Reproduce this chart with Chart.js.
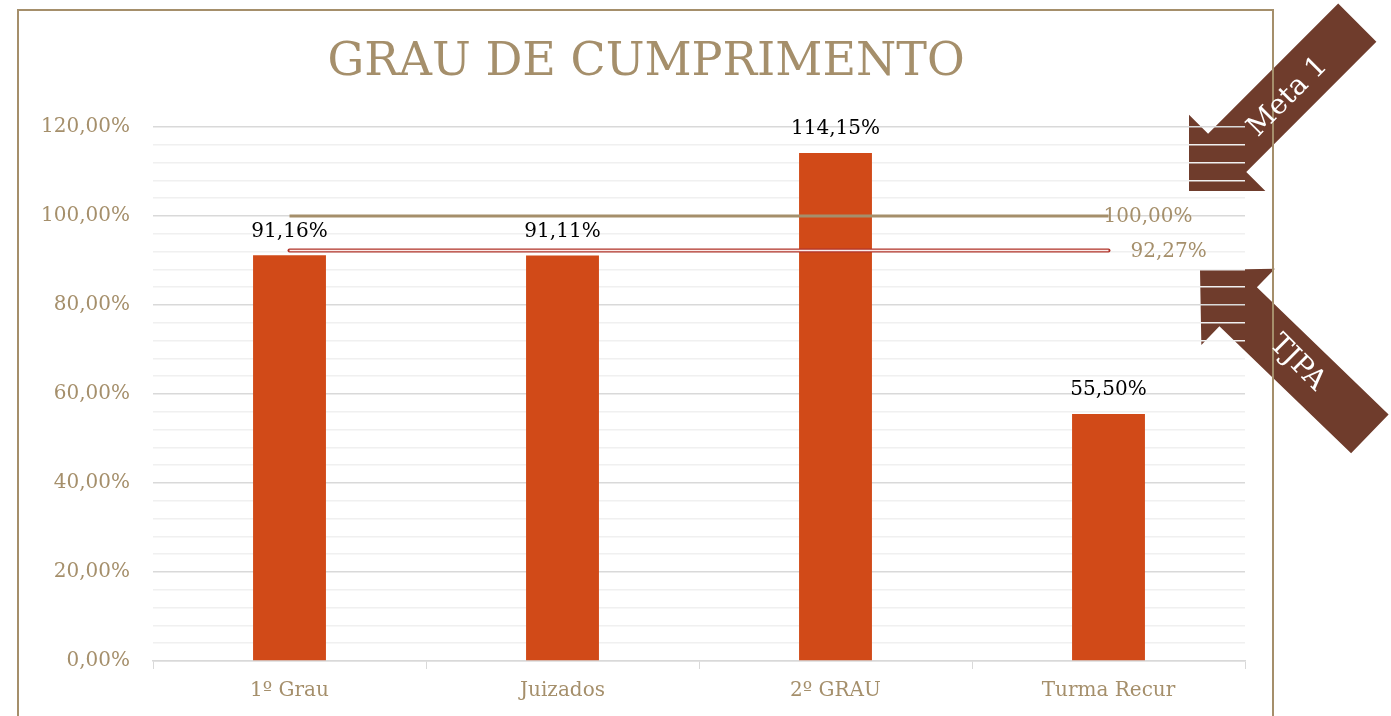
<!DOCTYPE html>
<html>
<head>
<meta charset="utf-8">
<script src="https://cdn.jsdelivr.net/npm/chart.js@4"></script>
<style>
  html, body { margin: 0; padding: 0; background: #fff; }
  #wrap { width: 1391px; height: 716px; position: relative; }
</style>
</head>
<body>
<div id="wrap"><canvas id="chart"></canvas></div>
<script>
// ── Data ──────────────────────────────────────────────────
const chartTitle  = 'GRAU DE CUMPRIMENTO';
const categories  = ['1º Grau', 'Juizados', '2º GRAU', 'Turma Recur'];
const cumprimento = [91.16, 91.11, 114.15, 55.50];
const metaValues  = [100, 100, 100, 100];
const tjpaValues  = [92.27, 92.27, 92.27, 92.27];
const yTicks      = [0, 20, 40, 60, 80, 100, 120];

const TAN   = '#A58F6B';
const BAR   = '#D14A18';
const BROWN = '#6F3C2C';
const SERIF = '"DejaVu Serif", serif';

const pct = v => v.toFixed(2).replace('.', ',') + '%';

// ── Decorations: arrows, frame, title ─────────────────────
function drawArrow(ctx, tipX, tipY, angle, len, headLen, headHalf, shaftHalf) {
  ctx.save();
  ctx.translate(tipX, tipY);
  ctx.rotate(angle);
  ctx.beginPath();
  ctx.moveTo(0, 0);
  ctx.lineTo(-headLen, -headHalf);
  ctx.lineTo(-headLen, -shaftHalf);
  ctx.lineTo(-len, -shaftHalf);
  ctx.lineTo(-len, shaftHalf);
  ctx.lineTo(-headLen, shaftHalf);
  ctx.lineTo(-headLen, headHalf);
  ctx.closePath();
  ctx.fillStyle = BROWN;
  ctx.fill();
  ctx.restore();
}

function arrowText(ctx, text, x, y, angle) {
  ctx.save();
  ctx.translate(x, y);
  ctx.rotate(angle);
  ctx.fillStyle = '#fff';
  ctx.font = '28px ' + SERIF;
  ctx.textAlign = 'center';
  ctx.textBaseline = 'middle';
  ctx.fillText(text, 0, 0);
  ctx.restore();
}

const decorPlugin = {
  id: 'decor',
  beforeDraw(chart) {
    const ctx = chart.ctx;
    ctx.save();
    ctx.fillStyle = '#fff';
    ctx.fillRect(0, 0, chart.width, chart.height);
    // Meta 1 arrow (points down-left), TJPA arrow (points up-left)
    drawArrow(ctx, 1189, 191, Math.atan2(1, -1), 238, 54, 54, 27);
    drawArrow(ctx, 1200, 270, Math.atan2(-164, -170), 236, 53, 53, 27);
    // frame
    ctx.strokeStyle = TAN;
    ctx.lineWidth = 2;
    ctx.strokeRect(18, 10, 1255, 720);
    // title, centred on the frame
    ctx.fillStyle = TAN;
    ctx.font = '46px ' + SERIF;
    ctx.textAlign = 'center';
    ctx.textBaseline = 'middle';
    ctx.fillText(chartTitle, 646, 63);
    ctx.restore();
  },
  afterDraw(chart) {
    const ctx = chart.ctx;
    arrowText(ctx, 'Meta 1', 1288, 97, -Math.PI / 4);
    arrowText(ctx, 'TJPA', 1297, 363, Math.PI / 4);
  }
};

// ── Value labels ──────────────────────────────────────────
const labelPlugin = {
  id: 'valueLabels',
  afterDatasetsDraw(chart) {
    const ctx = chart.ctx;
    ctx.save();
    ctx.font = '20px ' + SERIF;

    // bars
    ctx.fillStyle = '#000';
    ctx.textAlign = 'center';
    ctx.textBaseline = 'bottom';
    chart.getDatasetMeta(0).data.forEach((bar, i) => {
      ctx.fillText(pct(cumprimento[i]), bar.x, bar.y - 14);
    });

    // line end labels
    ctx.fillStyle = TAN;
    ctx.textAlign = 'left';
    ctx.textBaseline = 'middle';
    const metaPts = chart.getDatasetMeta(1).data;
    const mLast = metaPts[metaPts.length - 1];
    ctx.fillText(pct(metaValues[metaValues.length - 1]), mLast.x - 5, mLast.y + 1);
    const tjpaPts = chart.getDatasetMeta(2).data;
    const tLast = tjpaPts[tjpaPts.length - 1];
    ctx.fillText(pct(tjpaValues[tjpaValues.length - 1]), tLast.x + 22, tLast.y + 1);
    ctx.restore();
  }
};

// ── Chart ─────────────────────────────────────────────────
const ctx = document.getElementById('chart').getContext('2d');
new Chart(ctx, {
  data: {
    labels: categories,
    datasets: [
      {
        type: 'bar',
        data: cumprimento,
        backgroundColor: BAR,
        categoryPercentage: 1,
        barPercentage: 0.267,
        order: 4
      },
      {
        type: 'line',
        data: metaValues,
        borderColor: TAN,
        borderWidth: 3,
        pointRadius: 0,
        order: 1
      },
      {
        type: 'line',
        data: tjpaValues,
        borderColor: '#B0342A',
        borderWidth: 4,
        borderCapStyle: 'round',
        pointRadius: 0,
        order: 3
      },
      {
        type: 'line',
        data: tjpaValues,
        borderColor: '#FBECEA',
        borderWidth: 1.5,
        pointRadius: 0,
        order: 2
      }
    ]
  },
  options: {
    responsive: true,
    maintainAspectRatio: false,
    animation: false,
    layout: { padding: { left: 18, right: 146, top: 127, bottom: 0 } },
    plugins: {
      legend: { display: false },
      tooltip: { enabled: false },
      title: { display: false }
    },
    scales: {
      x: {
        offset: true,
        grid: { offset: true, drawOnChartArea: false, color: '#D9D9D9', tickLength: 8 },
        border: { color: '#D9D9D9', width: 1.5 },
        ticks: { color: TAN, font: { family: SERIF, size: 20 }, padding: 10 },
        afterFit: s => { s.height = 55; }
      },
      y: {
        min: 0,
        max: 120,
        afterBuildTicks: s => {
          const t = [];
          for (let v = 0; v <= 120; v += 4) t.push({ value: v });
          s.ticks = t;
        },
        grid: {
          drawTicks: false,
          color: c => yTicks.includes(c.tick.value) ? '#D9D9D9' : '#F0F0F0',
          lineWidth: 1.5
        },
        border: { display: false },
        ticks: {
          color: TAN,
          font: { family: SERIF, size: 20 },
          padding: 23,
          autoSkip: false,
          callback: v => yTicks.includes(v) ? pct(v) : ''
        },
        afterFit: s => { s.width = 135; }
      }
    }
  },
  plugins: [decorPlugin, labelPlugin]
});
</script>
</body>
</html>
